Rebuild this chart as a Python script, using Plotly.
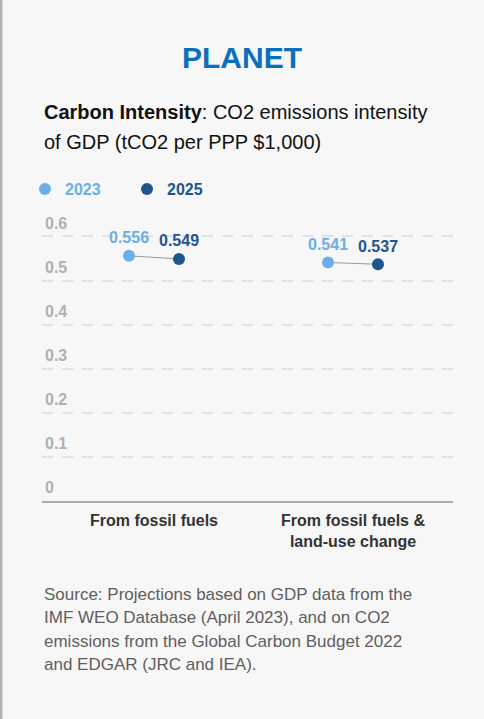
import plotly.graph_objects as go

categories = ["From fossil fuels", "From fossil fuels &<br>land-use change"]
years = ["2023", "2025"]
values_2023 = [0.556, 0.541]
values_2025 = [0.549, 0.537]
y_ticks = [0, 0.1, 0.2, 0.3, 0.4, 0.5, 0.6]
y_tick_labels = ["0", "0.1", "0.2", "0.3", "0.4", "0.5", "0.6"]

LIGHT = "#6aaeea"
DARK = "#1d568e"
FONT = "Liberation Sans, Arial, Helvetica, sans-serif"
OFF = 0.1256

idx = list(range(len(categories)))
x23 = [i - OFF for i in idx]
x25 = [i + OFF for i in idx]

W, H = 484, 719
L, R, T, B = 42, 31, 210, 218
pw, ph = W - L - R, H - T - B


def px(xp):
    return (xp - L) / pw


def py(yp):
    return (H - B - yp) / ph


fig = go.Figure()

# connector lines
for i in idx:
    fig.add_trace(go.Scatter(
        x=[x23[i], x25[i]], y=[values_2023[i], values_2025[i]],
        mode="lines", line=dict(color="#9a9a9a", width=1),
        showlegend=False, hoverinfo="skip"))

fig.add_trace(go.Scatter(
    x=x23, y=values_2023, mode="markers",
    marker=dict(color=LIGHT, size=12),
    name=f"<b><span style='color:{LIGHT}'>{years[0]}</span></b>",
    cliponaxis=False))
fig.add_trace(go.Scatter(
    x=x25, y=values_2025, mode="markers",
    marker=dict(color=DARK, size=12),
    name=f"<b><span style='color:{DARK}'>{years[1]}</span></b>",
    cliponaxis=False))

annotations = []
for xs, vs, col in [(x23, values_2023, LIGHT), (x25, values_2025, DARK)]:
    for xv, v in zip(xs, vs):
        annotations.append(dict(
            x=xv, y=v, xref="x", yref="y", text=f"<b>{v:.3f}</b>",
            showarrow=False, yshift=18,
            font=dict(family=FONT, size=16, color=col)))

annotations.append(dict(
    x=px(42), y=py(112), xref="paper", yref="paper", xanchor="left", yanchor="middle",
    text="<b>Carbon Intensity</b>: CO2 emissions intensity", showarrow=False,
    font=dict(family=FONT, size=20, color="#111111")))
annotations.append(dict(
    x=px(42), y=py(142), xref="paper", yref="paper", xanchor="left", yanchor="middle",
    text="of GDP (tCO2 per PPP $1,000)", showarrow=False,
    font=dict(family=FONT, size=20, color="#111111")))

source_lines = [
    "Source: Projections based on GDP data from the",
    "IMF WEO Database (April 2023), and on CO2",
    "emissions from the Global Carbon Budget 2022",
    "and EDGAR (JRC and IEA).",
]
for k, line in enumerate(source_lines):
    annotations.append(dict(
        x=px(42), y=py(594 + 23.5 * k), xref="paper", yref="paper",
        xanchor="left", yanchor="middle", text=line, showarrow=False,
        font=dict(family=FONT, size=17, color="#5e5e5e")))

shapes = [dict(type="rect", xref="paper", yref="paper",
               x0=px(0), x1=px(2.5), y0=py(H), y1=py(0),
               fillcolor="#b3b3b3", line=dict(width=0), layer="above")]

fig.update_layout(
    width=W, height=H,
    margin=dict(l=L, r=R, t=T, b=B, pad=0),
    paper_bgcolor="#f7f7f7", plot_bgcolor="#f7f7f7",
    font=dict(family=FONT),
    title=dict(text="<b>PLANET</b>", x=0.5, xanchor="center",
               y=1 - 57 / H, yanchor="middle", yref="container",
               font=dict(family=FONT, size=30, color="#0b6fbd")),
    xaxis=dict(range=[(L - 154) / 199, (W - R - 154) / 199],
               tickvals=idx, ticktext=[f"<b>{c}</b>" for c in categories],
               showgrid=False, zeroline=False, showline=True,
               linecolor="#a8acb2", linewidth=2, ticks="",
               tickfont=dict(family=FONT, size=16, color="#333333"),
               ticklabelstandoff=4, fixedrange=True),
    yaxis=dict(range=[0, 0.66], tickvals=y_ticks,
               ticktext=[f"<b>{t}</b>" for t in y_tick_labels],
               showgrid=True, gridcolor="#e2e2e2", gridwidth=1.5,
               griddash="11px,9px", zeroline=False, showline=False,
               ticks="", ticklabelposition="inside top", ticklabelshift=-2,
               tickfont=dict(family=FONT, size=16, color="#b0b0b0"),
               fixedrange=True),
    legend=dict(orientation="h", x=px(25), y=py(189), xanchor="left",
                yanchor="middle", font=dict(family=FONT, size=16),
                bgcolor="rgba(0,0,0,0)", entrywidth=57, entrywidthmode="pixels"),
    annotations=annotations,
    shapes=shapes,
)

fig.write_html("out.html", config={"displayModeBar": False},
               post_script="document.body.style.margin='0';")
